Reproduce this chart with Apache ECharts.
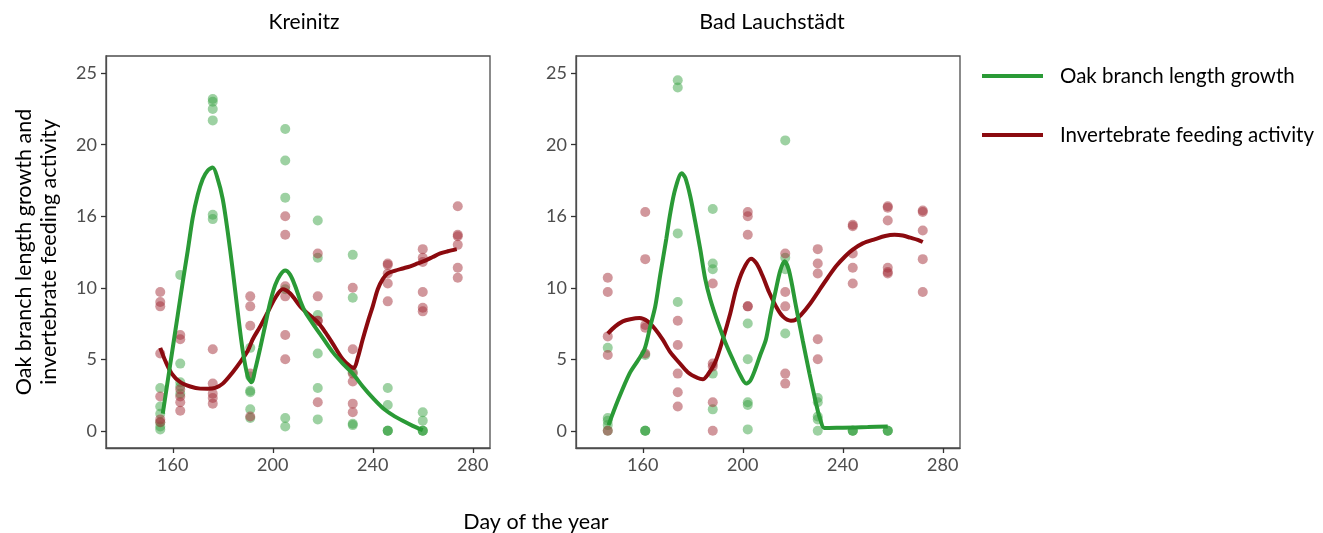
<!DOCTYPE html>
<html>
<head>
<meta charset="utf-8">
<script src="https://cdn.jsdelivr.net/npm/echarts@6/dist/echarts.min.js"></script>
<style>
html,body{margin:0;padding:0;background:#fff;}
#chart{width:1323px;height:533px;}
</style>
</head>
<body>
<div id="chart"></div>
<script>
// ---- tick labels ----
const xTickValues = [160, 200, 240, 280];
const yTickValues = [0, 5, 10, 15, 20, 25];
const yTickLabels = ['0', '5', '10', '16', '20', '25'];

const panelTitles = ['Kreinitz', 'Bad Lauchstädt'];
const seriesNames = ['Oak branch length growth', 'Invertebrate feeding activity'];
const xAxisTitle = 'Day of the year';
const yAxisTitle = 'Oak branch length growth and\ninvertebrate feeding activity';

// ---- Kreinitz: observations [day, value] ----
const kreinitzGrowthPts = [
  [155,3.0],[155,1.7],[155,1.2],[155,0.6],[155,0.1],[155,0.3],
  [163,10.9],[163,4.7],[163,3.4],[163,3.1],[163,2.6],
  [176,23.2],[176,23.0],[176,22.5],[176,21.7],[176,15.1],[176,14.8],
  [191,5.8],[191,3.8],[191,2.8],[191,2.7],[191,1.5],[191,0.9],
  [205,21.1],[205,18.9],[205,16.3],[205,9.9],[205,0.9],[205,0.3],
  [218,14.7],[218,12.1],[218,8.1],[218,5.4],[218,3.0],[218,0.8],
  [232,12.3],[232,9.3],[232,4.1],[232,0.5],[232,0.4],
  [246,3.0],[246,1.8],[246,0],[246,0],[246,0],
  [260,1.3],[260,0.7],[260,0],[260,0],[260,0]
];
const kreinitzFeedingPts = [
  [155,9.7],[155,9.0],[155,8.7],[155,5.4],[155,2.4],[155,0.8],[155,0.6],
  [163,6.7],[163,6.4],[163,2.9],[163,2.4],[163,2.0],[163,1.4],
  [176,5.7],[176,3.3],[176,2.6],[176,2.3],[176,1.9],
  [191,9.4],[191,8.7],[191,7.35],[191,4.0],[191,1.0],
  [205,15.0],[205,13.7],[205,10.1],[205,9.4],[205,6.7],[205,5.0],
  [218,12.4],[218,9.4],[218,7.7],[218,7.7],[218,2.0],
  [232,10.0],[232,5.7],[232,4.0],[232,3.45],[232,1.9],[232,1.3],
  [246,11.7],[246,11.6],[246,11.0],[246,10.3],[246,9.05],
  [260,12.7],[260,12.1],[260,11.8],[260,9.7],[260,8.6],[260,8.35],
  [274,15.7],[274,13.7],[274,13.6],[274,13.0],[274,11.4],[274,10.7]
];
// ---- Kreinitz: smoothed trends [day, value] ----
const kreinitzGrowthCurve = [
  [156,1.2],[158,3.5],[160,5.8],[162,8.1],[164,10.4],[166,12.6],[168,14.9],[170,16.5],
  [172,17.6],[174,18.2],[176,18.4],[178,17.6],[180,16.2],[182,13.9],[184,11.2],[186,8.3],
  [188,5.6],[190,3.8],[191.5,3.4],[193,4.3],[195,5.8],[197,7.4],[199,9.0],[201,10.2],
  [203,10.9],[205,11.2],[207,10.9],[209,10.1],[211,9.1],[213,8.3],[216,7.5],[220,6.5],
  [224,5.5],[228,4.7],[232,4.0],[236,3.1],[240,2.3],[244,1.6],[248,1.1],[252,0.7],
  [256,0.35],[260,0.05]
];
const kreinitzFeedingCurve = [
  [155,5.8],[157,4.9],[159.6,4.0],[163,3.4],[167,3.1],[171,2.95],[174,2.94],[177,3.0],
  [180,3.3],[184,4.1],[187,4.8],[190,5.6],[192,6.4],[195,7.3],[198,8.3],[201,9.3],
  [204,9.9],[207,9.6],[211,8.7],[214,8.2],[218,7.6],[221,6.9],[224,6.1],[228,5.0],
  [231,4.5],[232.5,4.4],[234,5.1],[236,6.4],[238,7.6],[240,8.7],[242,9.9],[244,10.6],
  [246,11.0],[249,11.2],[252,11.35],[255,11.5],[258,11.7],[261,11.9],[264,12.15],
  [267,12.4],[270,12.55],[273.6,12.7]
];

// ---- Bad Lauchstädt: observations [day, value] ----
const badGrowthPts = [
  [146,5.8],[146,0.9],[146,0.7],[146,0.4],[146,0],
  [161,5.3],[161,0],[161,0],[161,0],
  [174,24.5],[174,24.0],[174,13.8],[174,9.0],
  [188,15.5],[188,11.7],[188,11.3],[188,4.0],[188,1.5],
  [202,7.5],[202,5.0],[202,2.0],[202,1.8],[202,0.1],
  [217,20.3],[217,12.1],[217,11.3],[217,6.8],
  [230,2.3],[230,2.0],[230,1.0],[230,0.8],[230,0],
  [244,0],[244,0],[244,0],
  [258,0],[258,0],[258,0]
];
const badFeedingPts = [
  [146,10.7],[146,9.7],[146,6.6],[146,5.3],[146,0],
  [161,15.3],[161,12.0],[161,7.4],[161,7.2],[161,5.4],
  [174,7.7],[174,6.0],[174,4.0],[174,2.7],[174,1.7],
  [188,10.3],[188,4.7],[188,4.5],[188,2.0],[188,0],
  [202,15.3],[202,15.0],[202,13.7],[202,8.7],[202,8.7],
  [217,12.4],[217,9.7],[217,8.7],[217,4.0],[217,3.3],
  [230,12.7],[230,11.7],[230,11.0],[230,6.4],[230,5.0],
  [244,14.4],[244,14.3],[244,12.4],[244,11.4],[244,10.3],
  [258,15.7],[258,15.6],[258,14.7],[258,11.4],[258,11.1],[258,11.0],
  [272,15.4],[272,15.3],[272,14.0],[272,12.0],[272,9.7]
];
// ---- Bad Lauchstädt: smoothed trends [day, value] ----
const badGrowthCurve = [
  [146.3,0.4],[150,2.1],[154.7,4.0],[158,4.9],[160.7,5.7],[163,7.3],[165,8.7],[167,10.9],
  [169.4,13.4],[171,15.2],[173,16.9],[175.6,18.0],[177,17.7],[179,16.4],[181,14.6],
  [183,12.7],[185,10.6],[187,9.2],[190,7.6],[193,6.2],[196,5.0],[198.7,4.0],[201.4,3.3],
  [203,3.5],[205,4.3],[207,5.3],[209.3,6.4],[211,8.0],[213.3,9.9],[215,11.2],[216.7,11.85],
  [218.5,11.2],[221.3,8.7],[224,6.3],[226.7,4.0],[229.6,1.7],[231,0.8],[232.7,0.19],
  [240,0.22],[250,0.26],[258,0.3]
];
const badFeedingCurve = [
  [146,6.8],[149,7.3],[152,7.65],[155,7.8],[158.7,7.88],[162,7.65],[165,7.1],[168,6.37],
  [171,5.5],[174.7,4.74],[178,4.1],[182,3.69],[184,3.6],[186,3.92],[189,4.8],[192,6.37],
  [195,8.2],[197.3,9.86],[200,11.2],[203.3,12.03],[205.5,11.7],[208,10.8],[210.5,9.7],
  [213.3,8.7],[216,8.0],[219.3,7.7],[221,7.75],[223.3,8.1],[227,8.9],[230.7,9.86],
  [234,10.7],[237.3,11.5],[241,12.2],[244,12.66],[248,13.1],[253,13.4],[257,13.62],
  [260.7,13.7],[264,13.65],[267,13.5],[270,13.35],[272,13.2]
];

// ---- styling ----
const FONT = 'Lato';
const GREEN_LINE = '#2a9a36';
const GREEN_PT = '#3ca346';
const RED_LINE = '#8b0a0f';
const RED_PT = '#a3303a';

const grids = [
  {left:106, top:56, width:384, height:392, show:true, borderColor:'#4d4d4d', borderWidth:1.3, backgroundColor:'transparent', containLabel:false, outerBoundsMode:'none'},
  {left:576, top:56, width:384, height:392, show:true, borderColor:'#4d4d4d', borderWidth:1.3, backgroundColor:'transparent', containLabel:false, outerBoundsMode:'none'}
];

function xAxisFor(i){
  return {
    type:'value', gridIndex:i, min:133.3, max:286.9,
    splitLine:{show:false},
    axisLine:{show:true, onZero:false, lineStyle:{color:'#4d4d4d', width:1.3}},
    axisTick:{show:true, length:5, customValues:xTickValues, lineStyle:{color:'#333', width:1.3}},
    axisLabel:{customValues:xTickValues, margin:8, color:'#4d4d4d', fontSize:18, fontFamily:FONT},
  };
}
function yAxisFor(i){
  return {
    type:'value', gridIndex:i, min:-1.2, max:26.2,
    splitLine:{show:false},
    axisLine:{show:true, onZero:false, lineStyle:{color:'#4d4d4d', width:1.3}},
    axisTick:{show:true, length:5, customValues:yTickValues, lineStyle:{color:'#333', width:1.3}},
    axisLabel:{customValues:yTickValues, margin:9, color:'#4d4d4d', fontSize:18, fontFamily:FONT,
      formatter:function(v){ const k = yTickValues.indexOf(v); return k >= 0 ? yTickLabels[k] : ''; }},
  };
}

function scatterS(name, data, color, i){
  return {name:name, type:'scatter', xAxisIndex:i, yAxisIndex:i, data:data, symbolSize:10,
    itemStyle:{color:color, opacity:0.5}, z:2, silent:true};
}
function lineS(name, data, color, i, z){
  return {name:name, type:'line', xAxisIndex:i, yAxisIndex:i, data:data, smooth:0.3,
    showSymbol:false, symbol:'none', lineStyle:{color:color, width:4}, itemStyle:{color:color}, z:z, silent:true};
}

const option = {
  animation:false,
  backgroundColor:'#fff',
  textStyle:{fontFamily:FONT},
  grid:grids,
  xAxis:[xAxisFor(0), xAxisFor(1)],
  yAxis:[yAxisFor(0), yAxisFor(1)],
  legend:{
    data:seriesNames, orient:'vertical', left:982, top:65, itemGap:37, padding:0,
    itemWidth:61, itemHeight:4, icon:'rect',
    textStyle:{fontSize:20.5, fontFamily:FONT, color:'#000', padding:[0,0,0,12], lineHeight:22},
    selectedMode:false
  },
  graphic:[
    {type:'text', x:304, y:22, style:{text:panelTitles[0], font:'21px ' + FONT, fill:'#000', textAlign:'center', textVerticalAlign:'middle'}},
    {type:'text', x:772, y:22, style:{text:panelTitles[1], font:'21.5px ' + FONT, fill:'#000', textAlign:'center', textVerticalAlign:'middle'}},
    {type:'text', x:536, y:522, style:{text:xAxisTitle, font:'21.5px ' + FONT, fill:'#000', textAlign:'center', textVerticalAlign:'middle'}},
    {type:'text', x:37, y:252, rotation:Math.PI/2, style:{text:yAxisTitle, font:'21.5px ' + FONT, lineHeight:25, fill:'#000', textAlign:'center', textVerticalAlign:'middle'}}
  ],
  series:[
    scatterS('growth obs K', kreinitzGrowthPts, GREEN_PT, 0),
    scatterS('feeding obs K', kreinitzFeedingPts, RED_PT, 0),
    lineS(seriesNames[1], kreinitzFeedingCurve, RED_LINE, 0, 3),
    lineS(seriesNames[0], kreinitzGrowthCurve, GREEN_LINE, 0, 4),
    scatterS('growth obs B', badGrowthPts, GREEN_PT, 1),
    scatterS('feeding obs B', badFeedingPts, RED_PT, 1),
    lineS(seriesNames[1], badFeedingCurve, RED_LINE, 1, 3),
    lineS(seriesNames[0], badGrowthCurve, GREEN_LINE, 1, 4)
  ]
};

const chart = echarts.init(document.getElementById('chart'), null, {renderer:'canvas'});
chart.setOption(option);
</script>
</body>
</html>
